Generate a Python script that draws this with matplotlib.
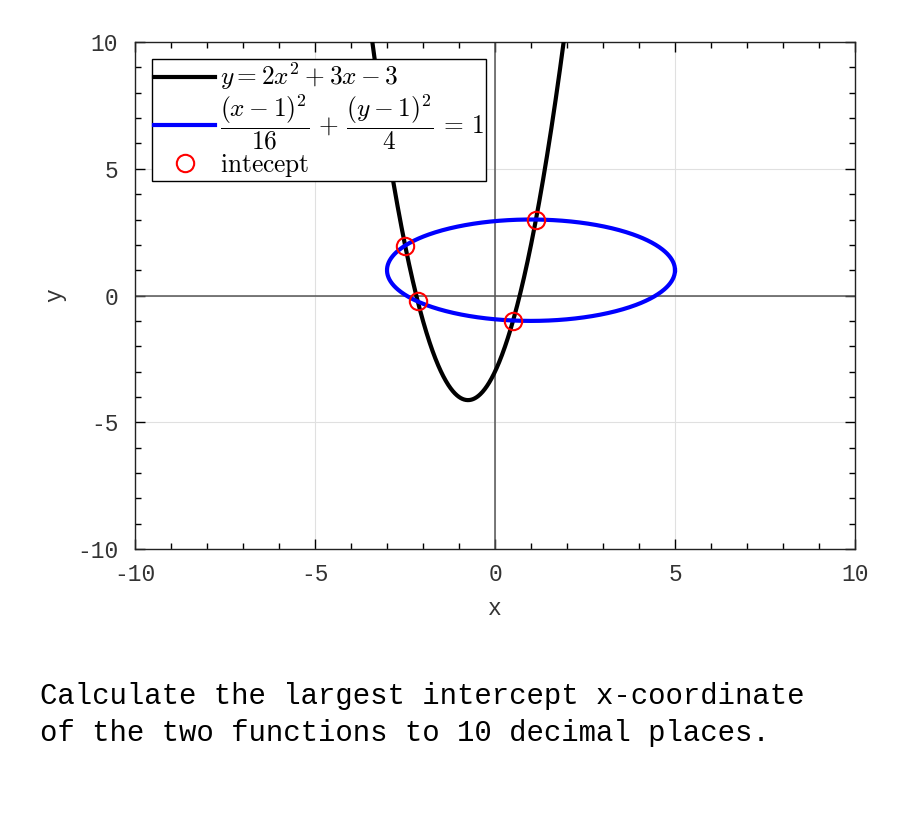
import numpy as np
import matplotlib.pyplot as plt
from matplotlib.ticker import MultipleLocator

plt.rcParams['mathtext.fontset'] = 'cm'
plt.rcParams['axes.unicode_minus'] = False

# parabola y = a x^2 + b x + c
parab = [2, 3, -3]
# ellipse (x-h)^2/A + (y-k)^2/B = 1
ell_center = [1, 1]
ell_den = [16, 4]
# intercepts
ix = [-2.49, -2.15, 0.50, 1.137]
iy = [1.96, -0.22, -1.00, 3.00]

xlim = [-10, 10]
ylim = [-10, 10]
ticks = [-10, -5, 0, 5, 10]

xx = np.linspace(xlim[0], xlim[1], 2000)
yy = parab[0]*xx**2 + parab[1]*xx + parab[2]
t = np.linspace(0, 2*np.pi, 600)
ex = ell_center[0] + np.sqrt(ell_den[0])*np.cos(t)
ey = ell_center[1] + np.sqrt(ell_den[1])*np.sin(t)

fig = plt.figure(figsize=(9, 8.25), dpi=100)
ax = fig.add_axes([0.15, 0.3345, 0.80, 0.6145])

ax.axhline(0, color='#555555', lw=1.1, zorder=1)
ax.axvline(0, color='#555555', lw=1.1, zorder=1)
ax.plot(xx, yy, color='black', lw=3, zorder=3, label=r'$y = 2x^2 + 3x - 3$')
ax.plot(ex, ey, color='blue', lw=3, zorder=3,
        label=r'$\dfrac{(x-1)^2}{16} \,+\, \dfrac{(y-1)^2}{4} \,=\, 1$')
ax.plot(ix, iy, 'o', ms=12.5, mfc='none', mec='red', mew=1.5, zorder=4,
        label=r'$\mathrm{intecept}$')

ax.set_xlim(xlim)
ax.set_ylim(ylim)
ax.set_xticks(ticks)
ax.set_yticks(ticks)
ax.xaxis.set_minor_locator(MultipleLocator(1))
ax.yaxis.set_minor_locator(MultipleLocator(1))
ax.tick_params(which='both', direction='in', top=True, right=True,
               labelsize=16.5, labelcolor='#333333', width=1)
ax.tick_params(which='major', length=7)
ax.tick_params(which='minor', length=4)
ax.tick_params(axis='x', pad=10)
ax.tick_params(axis='y', pad=12)
for lab in ax.get_xticklabels() + ax.get_yticklabels():
    lab.set_family('Liberation Mono')
ax.grid(True, which='major', color='#e0e0e0', lw=0.8, zorder=0)
ax.set_axisbelow(True)
for sp in ax.spines.values():
    sp.set_color('#222222')
    sp.set_linewidth(1)

ax.set_xlabel('x', family='Liberation Mono', fontsize=16.5, color='#333333',
              labelpad=8)
ax.set_ylabel('y', family='Liberation Mono', fontsize=16.5, color='#333333',
              labelpad=8)

leg = ax.legend(loc='upper left', fontsize=18.3, fancybox=False, framealpha=1,
                edgecolor='black', handlelength=2.4, handletextpad=0.2,
                borderpad=0.1, labelspacing=0.0, borderaxespad=0.65)
leg.get_frame().set_linewidth(1)

fig.text(0.044, 0.134, 'Calculate the largest intercept x-coordinate\n'
         'of the two functions to 10 decimal places.',
         family='Liberation Mono', fontsize=20.9, va='center', ha='left',
         linespacing=1.4)

fig.savefig('out.png', dpi=100)
